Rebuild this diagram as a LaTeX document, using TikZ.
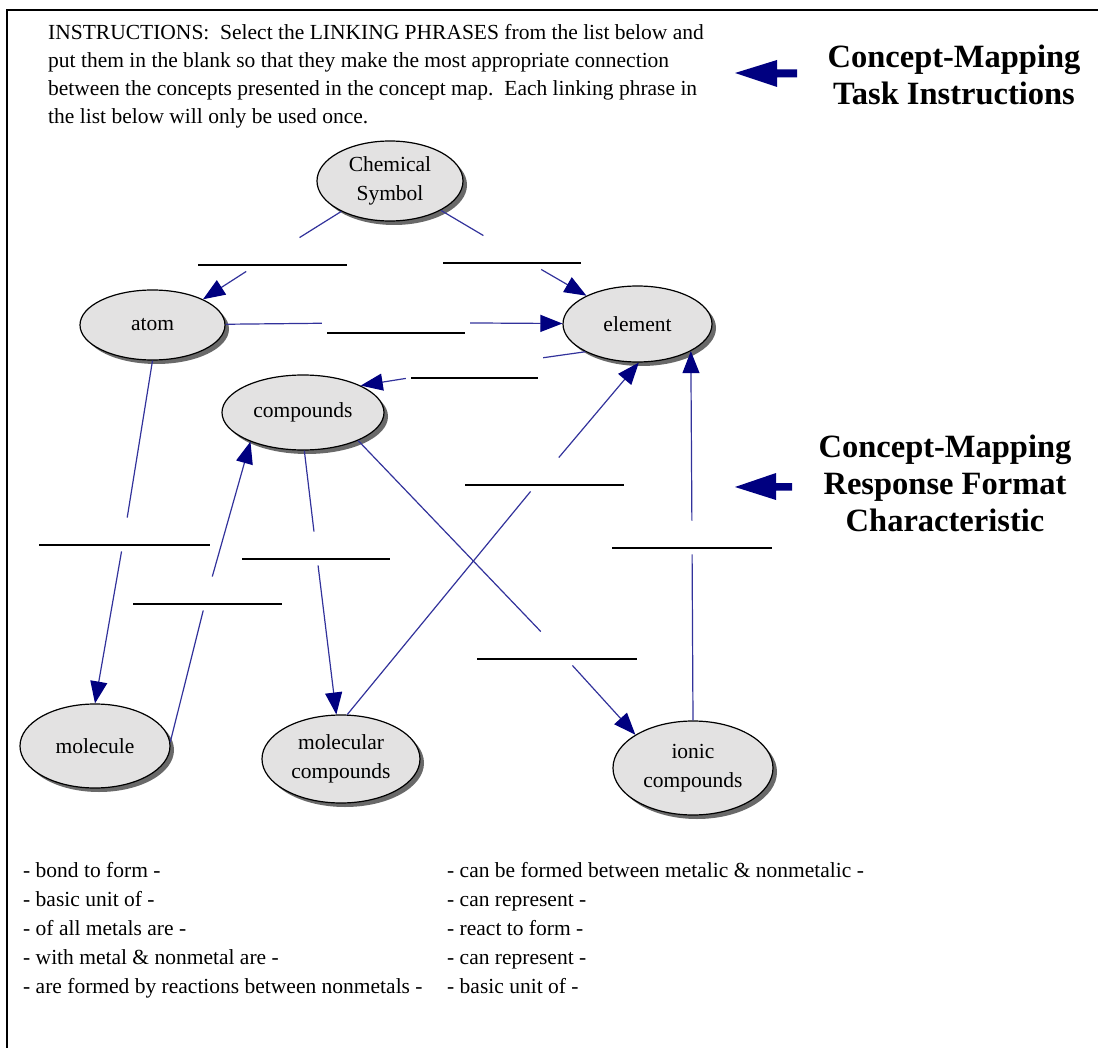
\documentclass[tikz,border=0pt]{standalone}
\usepackage{fontspec}
\setmainfont{Liberation Serif}
\usetikzlibrary{arrows.meta,shapes.geometric,shadows}
\definecolor{navyblue}{RGB}{0,0,128}
\definecolor{lineblue}{RGB}{50,50,155}
\definecolor{cfill}{RGB}{227,226,226}
\newcommand{\blankline}[1]{\rule{#1pt}{1.5pt}}

\begin{document}
\begin{tikzpicture}[x=1pt,y=-1pt,
  concept/.style={ellipse,draw=black,line width=1.2pt,fill=cfill,inner sep=0pt,align=center,
    font=\fontsize{21.5}{29}\selectfont,
    drop shadow={shadow xshift=4pt,shadow yshift=-4pt,fill=black!65,opacity=0.9}},
  phrase/.style={inner xsep=5pt,inner ysep=0pt,text height=28pt,text depth=5.5pt,anchor=base},
  heading/.style={anchor=north,align=center,inner sep=0pt,font=\fontsize{32.5}{37}\bfseries\selectfont},
  plain/.style={anchor=north west,align=left,inner sep=0pt},
  cline/.style={draw=lineblue,line width=1.2pt},
  carrow/.style={cline,-{Triangle[length=22pt,width=17pt,color=navyblue]}}]
\useasboundingbox (0,0) rectangle (1098,1048);
\draw[line width=2pt] (7,1048) -- (7,10) -- (1098,10);

\node[plain,font=\fontsize{21.5}{28}\selectfont] (instr) at (48,24) {INSTRUCTIONS:\ \ Select the LINKING PHRASES from the list below and\\
put them in the blank so that they make the most appropriate connection\\
between the concepts presented in the concept map.\ \ Each linking phrase in\\
the list below will only be used once.};

\node[heading] (task) at (954,45) {Concept-Mapping\\Task Instructions};
\node[heading] (format) at (945,435) {Concept-Mapping\\Response Format\\Characteristic};
\fill[navyblue] (735,73) -- (777,60) -- (777,69.5) -- (797,69.5) -- (797,77.5) -- (777,77.5) -- (777,87) -- cycle;
\fill[navyblue] (735,487) -- (776,473) -- (776,483) -- (792,483) -- (792,490.5) -- (776,490.5) -- (776,500) -- cycle;

\node[concept,minimum width=146pt,minimum height=80pt] (symbol) at (390,181) {Chemical\\Symbol};
\node[concept,minimum width=145pt,minimum height=70pt] (atom) at (152.5,325) {atom};
\node[concept,minimum width=149pt,minimum height=76pt] (element) at (637.5,324) {element};
\node[concept,minimum width=162pt,minimum height=75pt] (compounds) at (303,412.5) {compounds};
\node[concept,minimum width=150pt,minimum height=84pt] (molecule) at (95,746) {molecule};
\node[concept,minimum width=158pt,minimum height=88pt] (molcomp) at (341,759) {molecular\\compounds};
\node[concept,minimum width=160pt,minimum height=94pt] (ionic) at (693,768) {ionic\\compounds};

\node[phrase] (p1) at (272.5,265.75) {\blankline{149}};
\node[phrase] (p2) at (512,263.75) {\blankline{138}};
\node[phrase] (p3) at (396,333.75) {\blankline{138}};
\node[phrase] (p4) at (474.5,378.75) {\blankline{127}};
\node[phrase] (p5) at (544.5,485.75) {\blankline{159}};
\node[phrase] (p6) at (124.5,545.75) {\blankline{171}};
\node[phrase] (p7) at (316,559.75) {\blankline{148}};
\node[phrase] (p8) at (692,548.75) {\blankline{160}};
\node[phrase] (p9) at (207.5,604.75) {\blankline{149}};
\node[phrase] (p10) at (557,659.75) {\blankline{160}};

\draw[cline] (symbol.212) -- (p1);
\draw[carrow] (p1) -- (atom.27);
\draw[cline] (symbol.330) -- (p2);
\draw[carrow] (p2) -- (element.151);
\draw[cline] (atom) -- (p3);
\draw[carrow] (p3) -- (element);
\draw[cline] (element.208) -- (p4);
\draw[carrow] (p4) -- (compounds.25);
\draw[cline] (atom.270) -- (p6);
\draw[carrow] (p6) -- (molecule.90);
\draw[cline] (molecule.3) -- (p9);
\draw[carrow] (p9) -- (compounds.209);
\draw[cline] (compounds.272) -- (p7);
\draw[carrow] (p7) -- (molcomp.96);
\draw[cline] (compounds.333) -- (p10);
\draw[carrow] (p10) -- (ionic.150);
\draw[cline] (molcomp.82) -- (p5);
\draw[carrow] (p5) -- (element.272);
\draw[cline] (ionic.90) -- (p8);
\draw[carrow] (p8) -- (element.333);

\node[plain,font=\fontsize{21.5}{29}\selectfont] (listl) at (23,862) {- bond to form -\\
- basic unit of -\\
- of all metals are -\\
- with metal \& nonmetal are -\\
- are formed by reactions between nonmetals -};
\node[plain,font=\fontsize{21.5}{29}\selectfont] (listr) at (447,862) {- can be formed between metalic \& nonmetalic -\\
- can represent -\\
- react to form -\\
- can represent -\\
- basic unit of -};
\end{tikzpicture}
\end{document}
